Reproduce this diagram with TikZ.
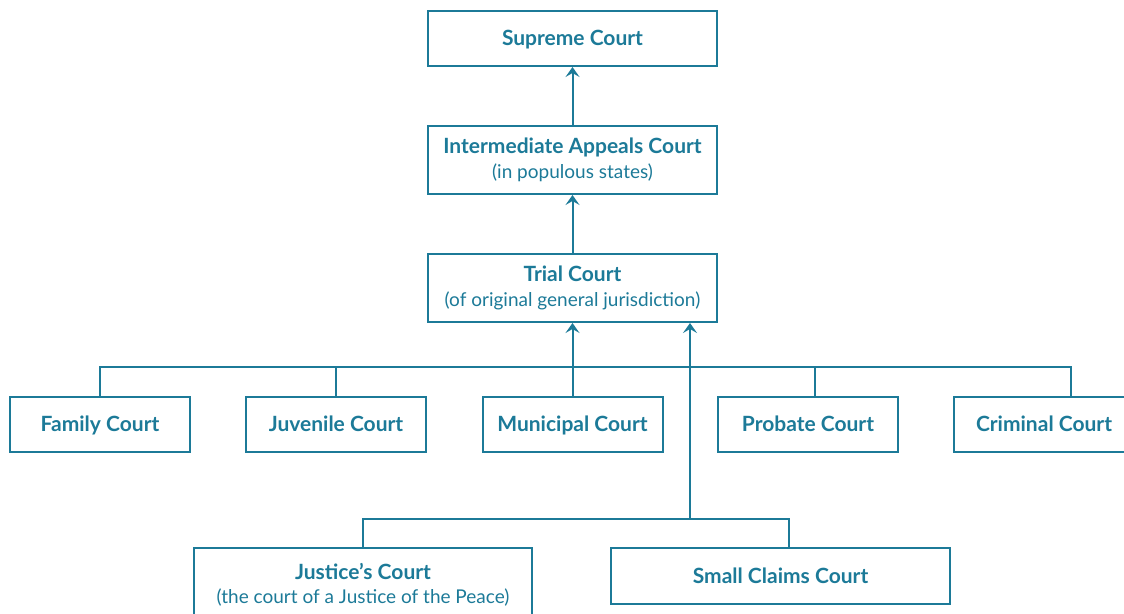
\documentclass[tikz,border=0pt]{standalone}
\usepackage{fontspec}
\setmainfont{Lato}
\usetikzlibrary{arrows.meta}
\definecolor{teal1}{RGB}{28,122,152}
\newcommand{\subtxt}[1]{{\fontsize{19}{24}\selectfont\mdseries #1}}
\tikzset{
  box/.style={draw=teal1, line width=2pt, rectangle, minimum height=55pt, inner sep=0pt, text=teal1, align=center, text height=15pt, text depth=1pt, font=\fontsize{21}{25}\selectfont\bfseries},
  conn/.style={draw=teal1, line width=2pt},
  arr/.style={conn, -{Stealth[length=10pt,width=14pt,inset=4pt]}}
}
\begin{document}
\begin{tikzpicture}[x=1pt,y=-1pt]
\useasboundingbox (0,0) rectangle (1124,613);
\begin{scope}
\clip (0,0) rectangle (1124,613);
\node[box, minimum width=289pt] (sup) at (572.5,38.5) {Supreme Court};
\node[box, minimum width=289pt, minimum height=68pt, text height=, text depth=] (int) at (572.5,160) {Intermediate Appeals Court\\[0pt]\subtxt{(in populous states)}};
\node[box, minimum width=289pt, minimum height=68pt, text height=, text depth=] (trial) at (572.5,288) {Trial Court\\[0pt]\subtxt{(of original general jurisdiction)}};
\node[box, minimum width=180pt] (fam) at (100,424.5) {Family Court};
\node[box, minimum width=180pt] (juv) at (336,424.5) {Juvenile Court};
\node[box, minimum width=180pt] (mun) at (572.5,424.5) {Municipal Court};
\node[box, minimum width=180pt] (pro) at (808,424.5) {Probate Court};
\node[box, minimum width=180pt] (cri) at (1044,424.5) {Criminal Court};
\node[box, minimum width=338pt, minimum height=74pt, text height=, text depth=] (jus) at (363,585) {Justice’s Court\\[-1pt]\subtxt{(the court of a Justice of the Peace)}};
\node[box, minimum width=339pt, minimum height=56pt] (sma) at (780.5,576) {Small Claims Court};
\coordinate (busL) at (100,367);
\coordinate (busR) at (1071,367);
\coordinate (busP) at (815,367);
\coordinate (bus2R) at (789,519);
\coordinate (bus2M) at (690,519);
\end{scope}
\draw[arr] (int.north) -- (sup.south);
\draw[arr] (trial.north) -- (int.south);
\draw[arr] (mun.north) -- (trial.south);
\draw[conn] (fam.north) |- (busR) -- (busR |- cri.north);
\draw[conn] (juv.north) -- (juv.north |- busL);
\draw[conn] (busP) -- (busP |- pro.north);
\draw[arr] (bus2M) -- (bus2M |- trial.south);
\draw[conn] (jus.north) |- (bus2R) -- (bus2R |- sma.north);
\end{tikzpicture}
\end{document}
